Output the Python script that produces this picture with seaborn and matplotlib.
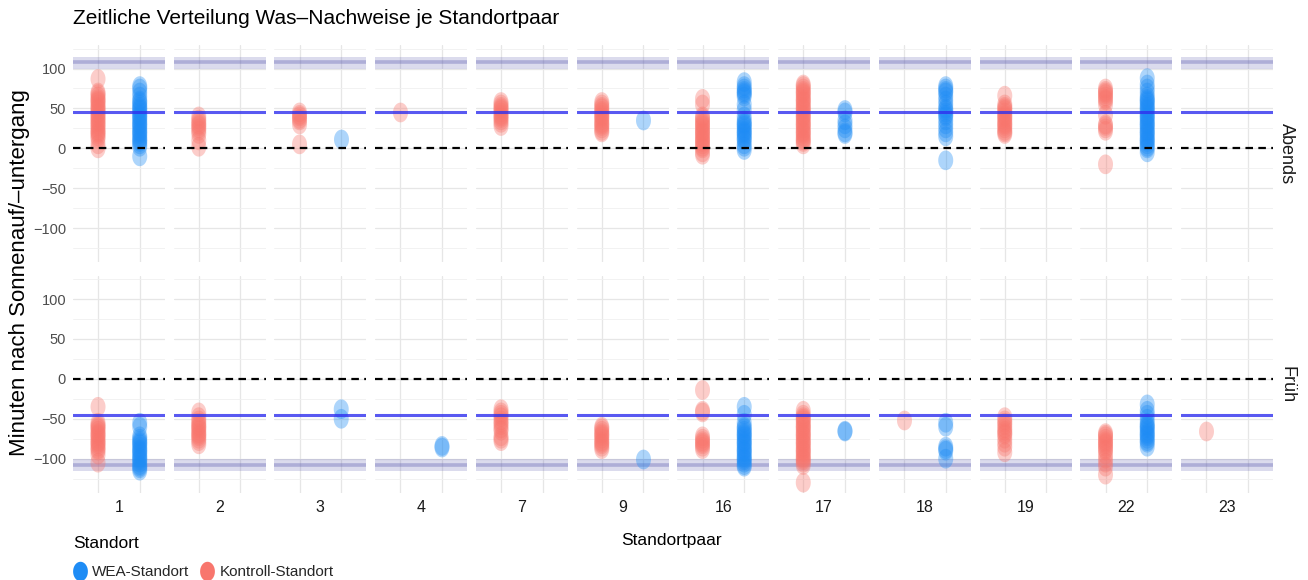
import matplotlib
matplotlib.use("Agg")
import matplotlib.pyplot as plt
import numpy as np
import pandas as pd
import seaborn as sns
from matplotlib.lines import Line2D
from matplotlib.path import Path

# ---------------------------------------------------------------------------
# Data: minutes relative to sunset (Abends) / sunrise (Früh) per site pair
# ---------------------------------------------------------------------------
standortpaare = [1, 2, 3, 4, 7, 9, 16, 17, 18, 19, 22, 23]
standorte = ["Kontroll-Standort", "WEA-Standort"]
zeiten = ["Abends", "Früh"]

abends_kontroll = {
    1: [87, 70, 68, 65, 62, 60, 58, 55, 52, 50, 48, 45, 43, 40, 38, 35, 33, 30,
        28, 25, 22, 20, 18, 15, 12, 5, 0],
    2: [40, 36, 33, 30, 28, 25, 22, 18, 10, 2],
    3: [45, 42, 40, 37, 35, 30, 5],
    4: [45],
    7: [58, 55, 52, 50, 48, 45, 42, 40, 38, 35, 32, 28],
    9: [58, 55, 52, 50, 47, 45, 42, 40, 38, 35, 32, 30, 28, 25, 22, 20],
    16: [62, 55, 40, 38, 35, 32, 30, 28, 25, 22, 20, 18, 15, 12, 10, 8, 5, 2,
         0, -5, -8],
    17: [80, 78, 75, 72, 70, 68, 65, 62, 60, 58, 55, 52, 50, 48, 45, 42, 40,
         38, 35, 32, 30, 28, 25, 22, 20, 18, 15, 12, 10, 8, 5],
    19: [66, 55, 52, 50, 48, 45, 42, 40, 38, 35, 32, 30, 28, 25, 22, 20, 18],
    22: [75, 72, 70, 68, 65, 62, 60, 55, 42, 30, 28, 25, 22, -20],
}
abends_wea = {
    1: [78, 75, 70, 65, 60, 58, 55, 52, 50, 48, 45, 42, 40, 38, 35, 32, 30, 28,
        25, 22, 20, 18, 15, 12, 10, 8, 5, 2, -10],
    3: [12],
    9: [35],
    16: [83, 78, 75, 72, 70, 68, 65, 55, 48, 40, 35, 32, 30, 28, 25, 22, 20,
         18, 15, 12, 10, 5, 2, -2],
    17: [48, 45, 35, 30, 25, 20, 18],
    18: [78, 75, 72, 70, 65, 60, 55, 50, 48, 45, 42, 40, 35, 30, 25, 20, 15,
         -15],
    22: [88, 80, 75, 70, 65, 62, 60, 58, 55, 52, 50, 48, 45, 42, 40, 38, 35,
         32, 30, 28, 25, 22, 20, 18, 15, 12, 10, 8, 5, 2, 0, -5],
}
frueh_kontroll = {
    1: [-35, -55, -58, -60, -62, -65, -68, -70, -72, -75, -78, -80, -82, -85,
        -88, -90, -95, -105],
    2: [-42, -48, -52, -55, -58, -60, -62, -65, -68, -70, -72, -75, -78, -82],
    7: [-38, -42, -45, -48, -52, -55, -58, -62, -65, -72, -75, -78],
    9: [-60, -62, -65, -68, -70, -72, -75, -78, -80, -82, -85, -88],
    16: [-14, -40, -42, -72, -75, -78, -80, -82, -85, -88],
    17: [-40, -45, -48, -50, -52, -55, -58, -60, -62, -65, -68, -70, -72, -75,
         -78, -80, -82, -85, -88, -90, -92, -95, -98, -100, -102, -105, -108,
         -130],
    18: [-52],
    19: [-48, -52, -55, -58, -62, -65, -68, -70, -75, -80, -85, -92],
    22: [-68, -70, -72, -75, -78, -80, -82, -85, -88, -90, -95, -100, -105,
         -110, -120],
    23: [-65],
}
frueh_wea = {
    1: [-55, -60, -72, -75, -78, -80, -82, -85, -88, -90, -92, -95, -98, -100,
        -102, -105, -108, -110, -112, -115],
    3: [-38, -50],
    4: [-84, -86],
    9: [-100],
    16: [-35, -45, -55, -60, -62, -65, -68, -70, -72, -75, -78, -80, -82, -85,
         -88, -90, -92, -95, -98, -100, -102, -105, -108, -110],
    17: [-65, -66],
    18: [-55, -60, -85, -88, -90, -100],
    22: [-32, -40, -45, -50, -55, -58, -60, -62, -65, -68, -70, -72, -75, -78,
         -80, -85],
}

# reference levels per time of day (minutes)
median_linie = {"Abends": 45, "Früh": -45}
band_unten = {"Abends": 100, "Früh": -115}
band_oben = {"Abends": 115, "Früh": -100}
band_mitte = {"Abends": 108, "Früh": -108}

# ---------------------------------------------------------------------------
# Long table
# ---------------------------------------------------------------------------
rows = []
for zeit, series in (("Abends", {"Kontroll-Standort": abends_kontroll,
                                 "WEA-Standort": abends_wea}),
                     ("Früh", {"Kontroll-Standort": frueh_kontroll,
                               "WEA-Standort": frueh_wea})):
    for standort, werte in series.items():
        for paar, liste in werte.items():
            for v in liste:
                rows.append({"Zeit": zeit, "Standortpaar": paar,
                             "Standort": standort, "Minuten": v})
df = pd.DataFrame(rows)

palette = {"WEA-Standort": "#1E8CF5", "Kontroll-Standort": "#F8766D"}

# slightly narrow oval point marker
_t = np.linspace(0, 2 * np.pi, 64)
oval = Path(np.column_stack([0.76 * np.cos(_t), np.sin(_t)]), closed=True)

sns.set_theme(style="whitegrid")
plt.rcParams["font.family"] = ["Liberation Sans", "DejaVu Sans"]
plt.rcParams["axes.unicode_minus"] = True

W, H = 1308, 580
fig, axes = plt.subplots(2, len(standortpaare), figsize=(W / 100, H / 100),
                         dpi=100, sharey=True)
fig.patch.set_facecolor("white")
fig.subplots_adjust(left=73 / W, right=1273 / W, top=1 - 45 / H,
                    bottom=1 - 493 / H, wspace=0.098, hspace=0.06)

for r, zeit in enumerate(zeiten):
    for c, paar in enumerate(standortpaare):
        ax = axes[r, c]
        sub = df[(df.Zeit == zeit) & (df.Standortpaar == paar)]
        if len(sub):
            sns.stripplot(data=sub, x="Standort", y="Minuten", hue="Standort",
                          order=standorte, hue_order=standorte,
                          palette=palette, jitter=False, size=14.2,
                          marker=oval, alpha=0.36, linewidth=0, legend=False,
                          ax=ax, zorder=2)
        # reference band and lines
        ax.axhspan(band_unten[zeit], band_oben[zeit], color="#5b5bb0",
                   alpha=0.22, lw=0, zorder=1)
        ax.axhline(band_mitte[zeit], color="#5b5bb0", alpha=0.35, lw=2.6,
                   zorder=1.5)
        ax.axhline(median_linie[zeit], color="#2f2fee", alpha=0.8, lw=2.2,
                   zorder=3)
        ax.axhline(0, color="black", lw=1.6, ls=(0, (3.4, 2.4)), zorder=3)

        ax.set_xlim(-0.6, 1.6)
        ax.set_ylim(-143, 129.5)
        ax.set_xticks([0, 1])
        ax.set_xticklabels(["", ""])
        ax.set_yticks([-100, -50, 0, 50, 100])
        ax.set_yticks([-125, -75, -25, 25, 75, 125], minor=True)
        ax.set_xlabel("")
        ax.set_ylabel("")
        ax.set_facecolor("white")
        for s in ax.spines.values():
            s.set_visible(False)
        ax.grid(True, which="major", axis="both", color="#e6e6e6", lw=0.9)
        ax.grid(True, which="minor", axis="y", color="#f0f0f0", lw=0.6)
        ax.set_axisbelow(True)
        ax.tick_params(axis="both", which="both", length=0)
        ax.tick_params(axis="y", labelsize=10.5, labelcolor="#4d4d4d", pad=5)

        if r == len(zeiten) - 1:
            ax.text(0.5, -15 / 218, str(paar), transform=ax.transAxes,
                    ha="center", va="center", fontsize=11.5, color="#1a1a1a")
        if c == len(standortpaare) - 1:
            ax.text(1 + 14 / 92, 0.5, zeit, transform=ax.transAxes,
                    rotation=270, ha="center", va="center", fontsize=13,
                    color="#1a1a1a")

fig.text(73 / W, 1 - 18 / H, "Zeitliche Verteilung Was–Nachweise je Standortpaar",
         ha="left", va="center", fontsize=15, color="black")
fig.text(20 / W, 1 - 273 / H, "Minuten nach Sonnenauf/–untergang",
         rotation=90, ha="center", va="center", fontsize=16, color="black")
fig.text(672 / W, 1 - 541 / H, "Standortpaar", ha="center", va="center",
         fontsize=12.5, color="black")

# legend: title and entries
fig.text(73 / W, 1 - 543 / H, "Standort", ha="left", va="center",
         fontsize=12.5, color="black")
handles = [Line2D([0], [0], marker=oval, linestyle="", markersize=14,
                  markerfacecolor=palette[k], markeredgecolor="none", label=k)
           for k in ["WEA-Standort", "Kontroll-Standort"]]
fig.legend(handles=handles, loc="center left",
           bbox_to_anchor=(72 / W, 1 - 572 / H), ncol=2, frameon=False,
           fontsize=11, handletextpad=0.3, columnspacing=0.7,
           handlelength=1.0, borderaxespad=0, borderpad=0)

fig.savefig("out.png", dpi=100, facecolor="white")
